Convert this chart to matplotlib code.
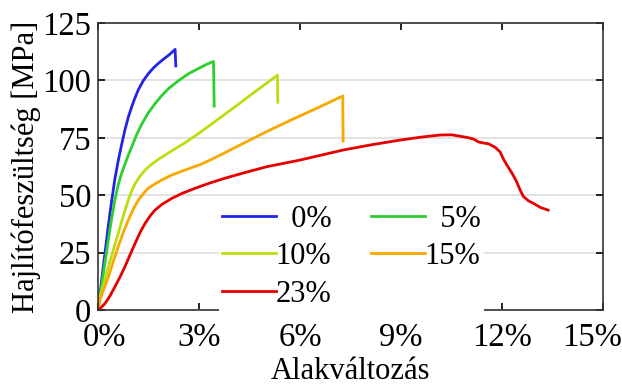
import numpy as np
import matplotlib.pyplot as plt
import matplotlib.transforms as mtransforms

labels = ['  0%', '  5%', '10%', '15%', '23%']
colors = ['#2323e6', '#2ccf2c', '#b8e010', '#f8a800', '#e60000']

# strain [%], stress [MPa]
strain0 = [0, 0.1, 0.2, 0.3, 0.4, 0.5, 0.6, 0.7, 0.8, 0.9, 1.0, 1.1, 1.2, 1.35, 1.5,
           1.65, 1.8, 1.95, 2.1, 2.2, 2.29, 2.31]
stress0 = [0, 12, 24, 36, 47, 57, 65, 72, 78.5, 84, 88.5, 92.5, 96, 100, 103,
           105.5, 107.5, 109.3, 111, 112.3, 113.5, 106.3]

strain5 = [0, 0.1, 0.2, 0.3, 0.4, 0.5, 0.6, 0.7, 0.8, 0.9, 1.0, 1.15, 1.3, 1.5, 1.7,
           1.9, 2.1, 2.4, 2.7, 3.0, 3.2, 3.35, 3.43, 3.45]
stress5 = [0, 10, 20, 30, 39.5, 48, 54.5, 59.5, 63.5, 67.5, 71, 76.5, 81, 86, 90,
           93.5, 96.5, 100, 103, 105.3, 106.8, 107.8, 108.2, 88.8]

strain10 = [0, 0.06, 0.15, 0.31, 0.45, 0.6, 0.75, 0.9, 1.0, 1.1, 1.25, 1.4, 1.6, 1.8,
            2.05, 2.3, 2.6, 3.0, 3.4, 3.8, 4.2, 4.6, 5.0, 5.33, 5.34]
stress10 = [0, 5.8, 10.5, 18.9, 26, 33.4, 41, 47.9, 51.8, 55, 58.3, 61, 63.6, 65.7,
            68, 70.3, 73, 77, 81.3, 85.6, 89.9, 94.4, 98.7, 102.3, 90.5]

strain15 = [0, 0.06, 0.18, 0.31, 0.45, 0.6, 0.75, 0.9, 1.05, 1.2, 1.35, 1.49, 1.7,
            1.89, 2.19, 2.5, 2.78, 3.03, 3.4, 3.77, 4.4, 5.01, 5.8, 6.59, 7.27, 7.28]
stress15 = [0, 4.4, 9.5, 14.5, 21, 27.6, 33.8, 39.2, 44, 47.9, 50.8, 53, 55,
            56.6, 58.8, 60.5, 62, 63.3, 65.8, 68.5, 73.2, 77.7, 83.2, 88.5, 93.2, 73.6]

strain23 = [0, 0.1, 0.21, 0.35, 0.5, 0.65, 0.8, 0.95, 1.1, 1.25, 1.4, 1.55, 1.69, 1.9,
            2.19, 2.5, 2.88, 3.3, 3.77, 4.4, 5.01, 6.0, 7.29, 8.1, 8.97, 9.6, 10.16,
            10.5, 10.7, 10.95, 11.15, 11.3, 11.45, 11.6, 11.8, 11.94, 12.05, 12.15,
            12.3, 12.43, 12.53, 12.63, 12.78, 12.95, 13.15, 13.37]
stress23 = [0, 1.2, 2.9, 6, 10.1, 14.3, 18.9, 24, 29, 33.8, 37.8, 41, 43.5, 46,
            48.6, 50.8, 53, 55.2, 57.4, 60, 62.4, 65.3, 69.7, 71.9, 74, 75.3, 76.2,
            76.3, 75.8, 75.2, 74.5, 73.2, 72.7, 72.4, 70.8, 68.9, 65.5, 63,
            59.5, 56, 52.5, 49.5, 47.6, 46.3, 44.6, 43.5]

series = [(strain0, stress0), (strain5, stress5), (strain10, stress10),
          (strain15, stress15), (strain23, stress23)]

plt.rcParams['font.family'] = ['Liberation Serif', 'DejaVu Serif']
fs = 22

fig = plt.figure(figsize=(6.22, 3.85), dpi=100)
ax = fig.add_axes([0.1576, 0.1948, 0.8119, 0.7455])

handles = []
for (x, y), lab, c in zip(series, labels, colors):
    h, = ax.plot(x, y, color=c, lw=2, label=lab)
    handles.append(h)

ax.set_xlim(0, 15)
ax.set_ylim(0, 125)
ax.set_xticks([0, 3, 6, 9, 12, 15])
ax.set_xticklabels(['0%', '3%', '6%', '9%', '12%', '15%'])
ax.set_yticks([0, 25, 50, 75, 100, 125])
ax.yaxis.grid(True, color='#dddddd', lw=1.2)
ax.set_axisbelow(True)
ax.tick_params(direction='in', length=5, width=1.2, labelsize=23.5,
               top=True, right=True)
ax.tick_params(axis='x', pad=9)
ax.tick_params(axis='y', pad=5)
for s in ax.spines.values():
    s.set_linewidth(1.2)
    s.set_color('#333333')

# nudge the end labels inside like the original
tl = ax.get_xticklabels()
tl[0].set_transform(tl[0].get_transform() +
                    mtransforms.ScaledTranslation(6 / 100, 0, fig.dpi_scale_trans))
tl[-1].set_transform(tl[-1].get_transform() +
                     mtransforms.ScaledTranslation(-11 / 100, 0, fig.dpi_scale_trans))

ax.set_xlabel('Alakváltozás', fontsize=fs, labelpad=3)
ax.set_ylabel('Hajlítófeszültség [MPa]', fontsize=fs, labelpad=1)

order = [0, 2, 4, 1, 3]
leg = ax.legend([handles[i] for i in order], [labels[i] for i in order],
                ncol=2, loc='upper left', bbox_to_anchor=(0.24, 0.378),
                fontsize=fs, frameon=True, fancybox=False, framealpha=1,
                edgecolor='none', facecolor='white', handlelength=1.75,
                handletextpad=0.0, columnspacing=1.3, labelspacing=0.28,
                borderpad=0.1, borderaxespad=0)

fig.savefig('out.png', dpi=100)
